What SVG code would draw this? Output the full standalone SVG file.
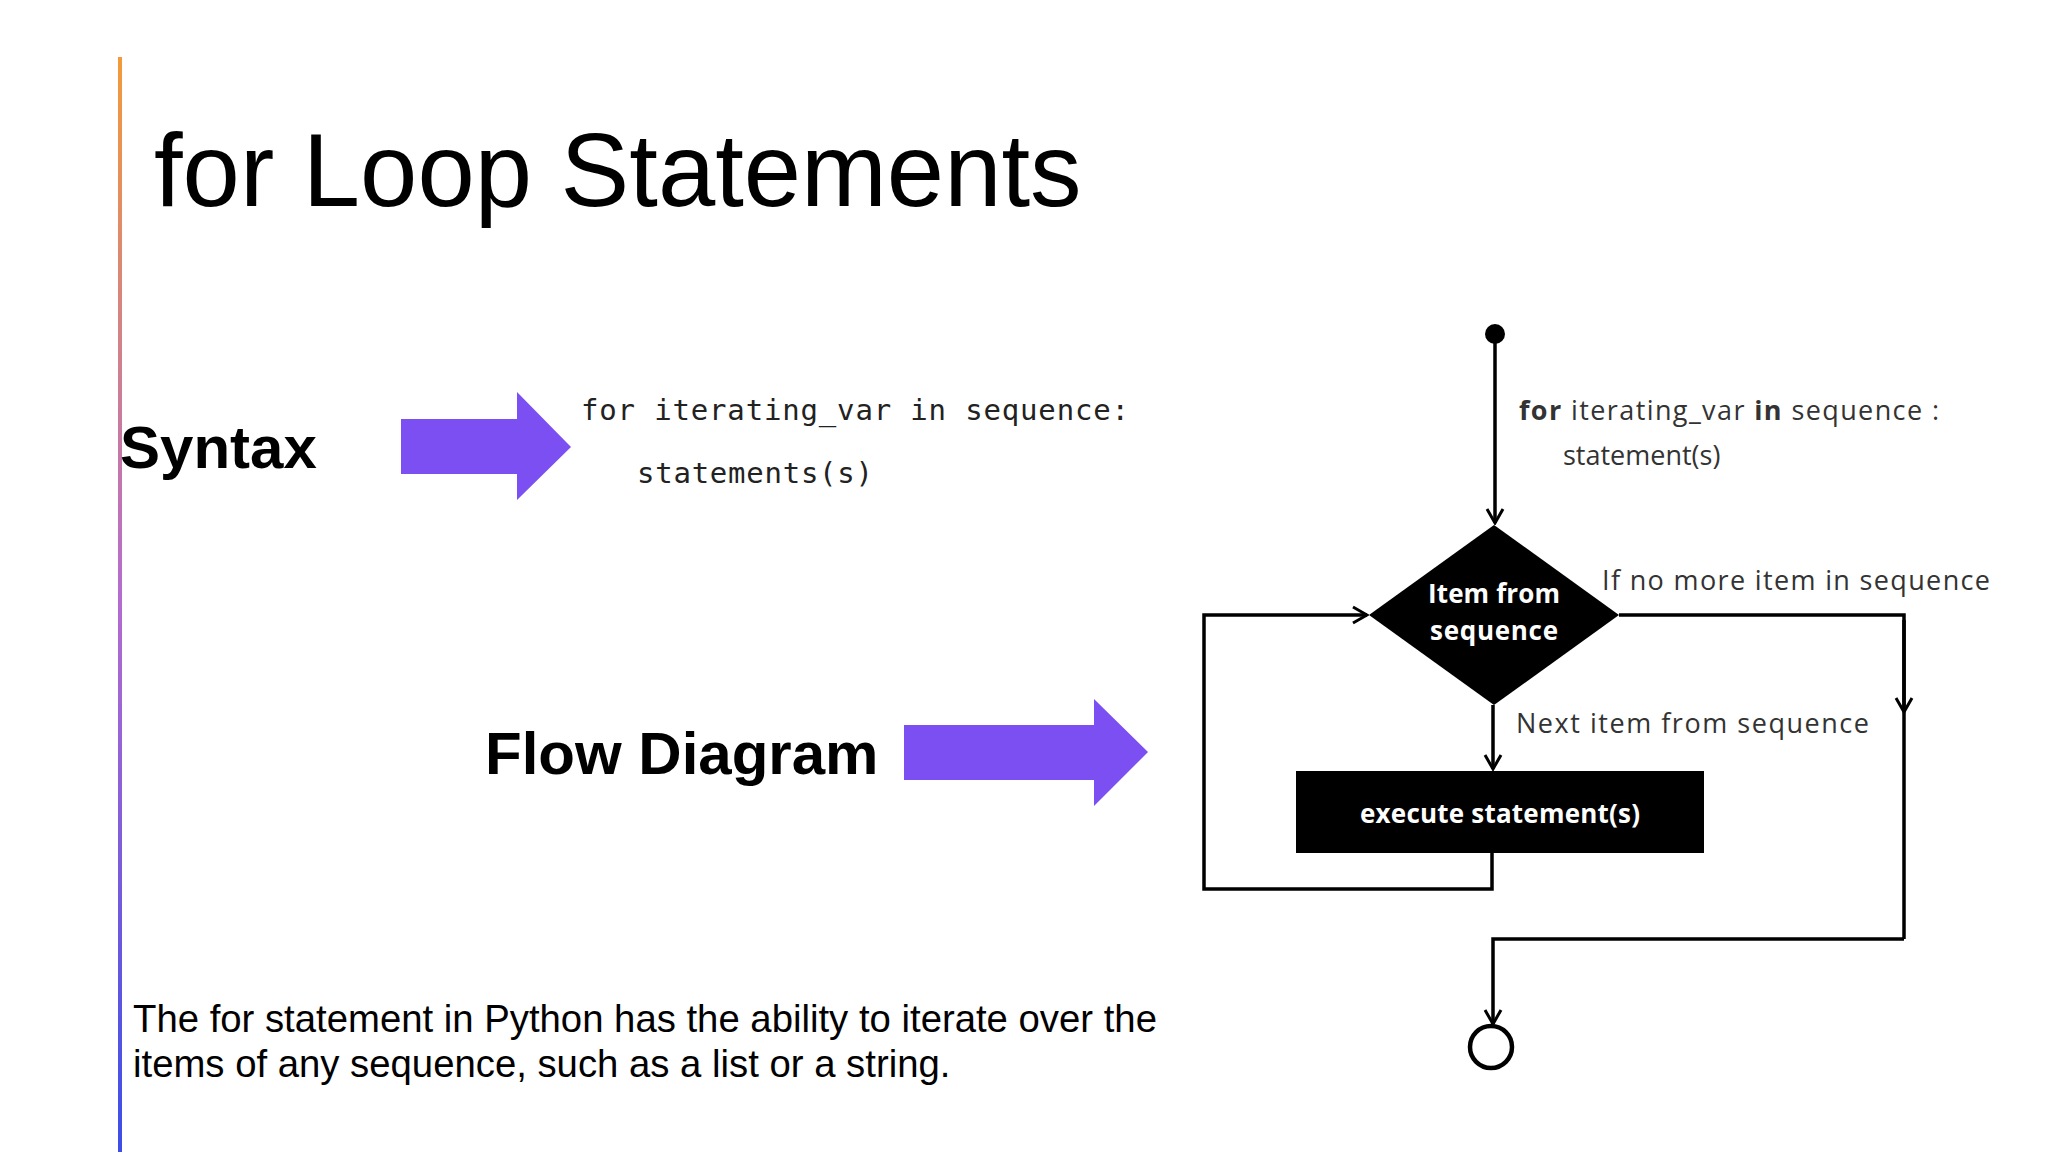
<svg xmlns="http://www.w3.org/2000/svg" width="2048" height="1152" viewBox="0 0 2048 1152">
<defs>
<linearGradient id="bar" x1="0" y1="0" x2="0" y2="1"><stop offset="0" stop-color="#f39a3a"/><stop offset="0.5" stop-color="#b46bd0"/><stop offset="1" stop-color="#3b4de8"/></linearGradient>
<marker id="v" viewBox="0 0 20 20" refX="18" refY="10" markerWidth="20" markerHeight="20" markerUnits="userSpaceOnUse" orient="auto"><polyline points="4,2 18,10 4,18" fill="none" stroke="#000" stroke-width="3"/></marker>
<style>
.ln{fill:none;stroke:#000;stroke-width:3.5}
.lb{font-family:"Open Sans","Liberation Sans",sans-serif;font-size:27px;fill:#333}
.wt{font-family:"Open Sans","Liberation Sans",sans-serif;font-size:26px;font-weight:bold;fill:#fff;text-anchor:middle}
.hd{font-family:"Liberation Sans",Arial,sans-serif;font-weight:bold;font-size:60px;fill:#000}
.code{font-family:"DejaVu Sans Mono","Liberation Mono",monospace;font-size:29px;fill:#222}
.arr{fill:#7b4ff2}
</style>
</defs>
<rect width="2048" height="1152" fill="#fff"/>
<rect x="118" y="57" width="4" height="1095" fill="url(#bar)"/>
<text x="154" y="206" font-family="Liberation Sans,Arial,sans-serif" font-size="103" fill="#000">for Loop Statements</text>
<text class="hd" x="120" y="468">Syntax</text>
<text class="hd" x="485" y="774">Flow Diagram</text>
<polygon class="arr" points="401,419 517,419 517,392 571,447 517,500 517,474 401,474"/>
<polygon class="arr" points="904,725 1094,725 1094,699 1148,752 1094,806 1094,780 904,780"/>
<text class="code" x="581" y="420" textLength="548">for iterating_var in sequence:</text>
<text class="code" x="637" y="483" textLength="236">statements(s)</text>
<text font-family="Liberation Sans,Arial,sans-serif" font-size="38.3" fill="#000"><tspan x="133" y="1032">The for statement in Python has the ability to iterate over the</tspan><tspan x="133" y="1077">items of any sequence, such as a list or a string.</tspan></text>
<g id="connectors">
<path class="ln" d="M1495,334 V523" marker-end="url(#v)"/>
<path class="ln" d="M1619,615 H1904 V939"/>
<path class="ln" d="M1904,620 V712" marker-end="url(#v)"/>
<path class="ln" d="M1904,939 H1493 V1024" marker-end="url(#v)"/>
<path class="ln" d="M1493,705 V769" marker-end="url(#v)"/>
<path class="ln" d="M1492,853 V889 H1204 V615 H1367" marker-end="url(#v)"/>
</g>
<g id="start"><circle cx="1495" cy="334" r="10" fill="#000"/></g>
<g id="decision"><polygon points="1494,525 1619,615 1494,705 1369,615" fill="#000"/><text class="wt" x="1494" y="603" textLength="132">Item from</text><text class="wt" x="1494" y="640" textLength="128">sequence</text></g>
<g id="execute"><rect x="1296" y="771" width="408" height="82" fill="#000"/><text class="wt" x="1500" y="823" textLength="280">execute statement(s)</text></g>
<g id="end"><circle cx="1491" cy="1047" r="21" fill="none" stroke="#000" stroke-width="4.5"/></g>
<text class="lb" x="1519" y="420" textLength="420"><tspan font-weight="bold">for</tspan> iterating_var <tspan font-weight="bold">in</tspan> sequence :</text>
<text class="lb" x="1563" y="465">statement(s)</text>
<text class="lb" x="1602" y="590" textLength="388">If no more item in sequence</text>
<text class="lb" x="1516" y="733" textLength="353">Next item from sequence</text>
</svg>
